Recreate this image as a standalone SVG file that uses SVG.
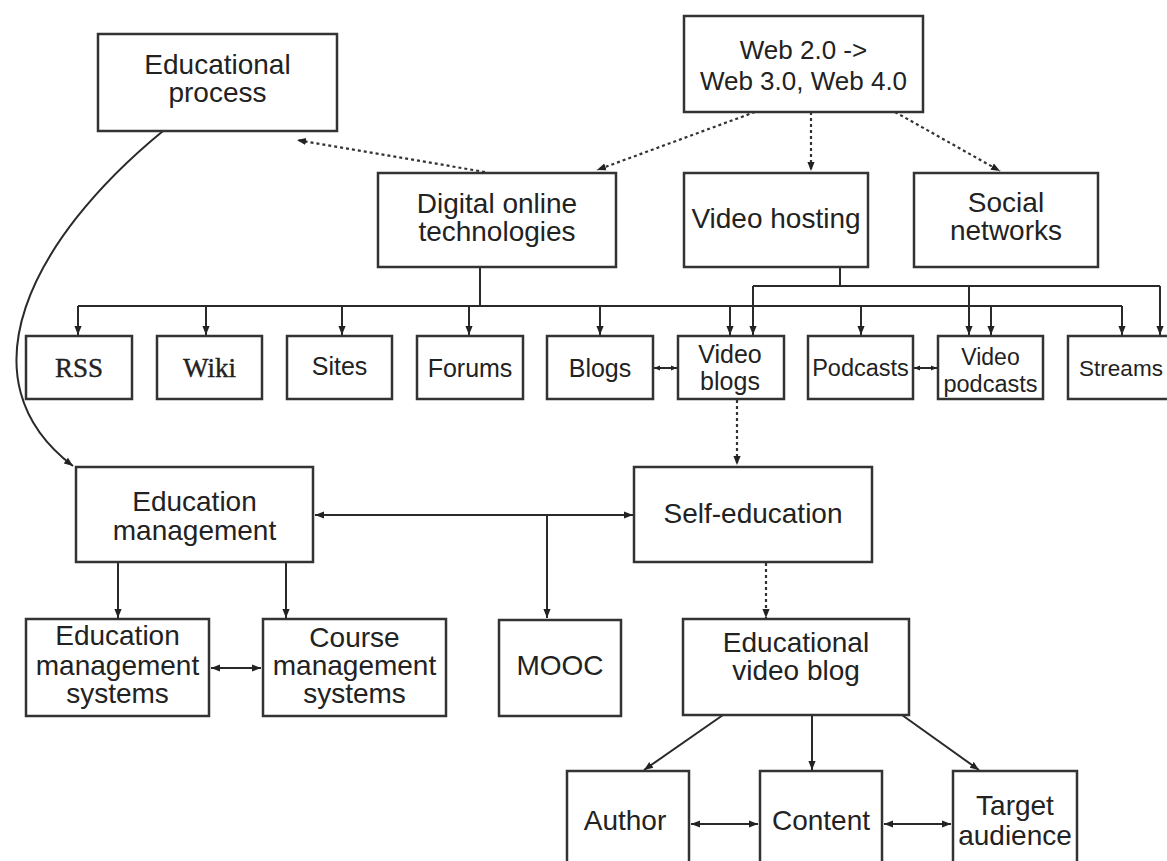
<svg xmlns="http://www.w3.org/2000/svg" width="1167" height="861" viewBox="0 0 1167 861">
<style>
.box{fill:#fff;stroke:#333;stroke-width:2.5}
.t{font-family:"Liberation Sans",Arial,sans-serif;font-size:28px;fill:#222;text-anchor:middle}
.s{font-family:"Liberation Sans",Arial,sans-serif;font-size:25px;fill:#222;text-anchor:middle}
.sf{font-family:"Liberation Serif","Times New Roman",serif;font-size:27px;fill:#222;text-anchor:middle;stroke:#222;stroke-width:0.4}
.ln{fill:none;stroke:#2a2a2a;stroke-width:2}
.dt{fill:none;stroke:#333;stroke-width:2.2;stroke-dasharray:3 3}
</style>
<defs>
<marker id="ah" viewBox="0 0 10 10" refX="10" refY="5" markerWidth="9" markerHeight="9" markerUnits="userSpaceOnUse" orient="auto-start-reverse"><path d="M0,1 L10,5 L0,9 z" fill="#222"/></marker>
<marker id="as" viewBox="0 0 10 10" refX="10" refY="5" markerWidth="6" markerHeight="6" markerUnits="userSpaceOnUse" orient="auto-start-reverse"><path d="M0,1 L10,5 L0,9 z" fill="#222"/></marker>
</defs>
<rect width="1167" height="861" fill="#fff"/>
<g id="connectors">
<path class="dt" d="M485,172 L297,140" marker-end="url(#ah)"/>
<path class="dt" d="M755,112 L597,170" marker-end="url(#ah)"/>
<path class="dt" d="M811,112 L811,171" marker-end="url(#ah)"/>
<path class="dt" d="M895,112 L1000,171" marker-end="url(#ah)"/>
<path class="ln" d="M480,267 V306 M78,306 H1122 M840,267 V286 M753,286 H1160"/>
<path class="ln" d="M78,306 V335" marker-end="url(#ah)"/>
<path class="ln" d="M206,306 V335" marker-end="url(#ah)"/>
<path class="ln" d="M342,306 V335" marker-end="url(#ah)"/>
<path class="ln" d="M469,306 V335" marker-end="url(#ah)"/>
<path class="ln" d="M600,306 V335" marker-end="url(#ah)"/>
<path class="ln" d="M730,306 V335" marker-end="url(#ah)"/>
<path class="ln" d="M861,306 V335" marker-end="url(#ah)"/>
<path class="ln" d="M991,306 V335" marker-end="url(#ah)"/>
<path class="ln" d="M1122,306 V335" marker-end="url(#ah)"/>
<path class="ln" d="M753,286 V335" marker-end="url(#ah)"/>
<path class="ln" d="M969,286 V335" marker-end="url(#ah)"/>
<path class="ln" d="M1160,286 V335" marker-end="url(#ah)"/>
<path class="ln" d="M654,368 H677" marker-start="url(#as)" marker-end="url(#as)"/>
<path class="ln" d="M914,368 H937" marker-start="url(#as)" marker-end="url(#as)"/>
<path class="dt" d="M737,400 V465" marker-end="url(#ah)"/>
<path class="ln" d="M163,131 C30,240 -40,380 73,466" marker-end="url(#ah)"/>
<path class="ln" d="M315,515 H633" marker-start="url(#ah)" marker-end="url(#ah)"/>
<path class="ln" d="M547,515 V618" marker-end="url(#ah)"/>
<path class="ln" d="M118,563 V618" marker-end="url(#ah)"/>
<path class="ln" d="M286,563 V618" marker-end="url(#ah)"/>
<path class="ln" d="M211,668 H261" marker-start="url(#ah)" marker-end="url(#ah)"/>
<path class="dt" d="M766,563 V618" marker-end="url(#ah)"/>
<path class="ln" d="M723,715 L644,770" marker-end="url(#ah)"/>
<path class="ln" d="M812,715 V770" marker-end="url(#ah)"/>
<path class="ln" d="M902,715 L979,770" marker-end="url(#ah)"/>
<path class="ln" d="M691,824 H758" marker-start="url(#ah)" marker-end="url(#ah)"/>
<path class="ln" d="M884,824 H951" marker-start="url(#ah)" marker-end="url(#ah)"/>
</g>
<g id="educational-process"><rect class="box" x="98" y="34" width="239" height="97"/><text class="t" x="217.5" y="74">Educational</text><text class="t" x="217.5" y="102">process</text></g>
<g id="web"><rect class="box" x="684" y="16" width="239" height="96"/><text class="t" x="803.5" y="59" style="font-size:26px">Web 2.0 -&gt;</text><text class="t" x="803.5" y="90" style="font-size:26px">Web 3.0, Web 4.0</text></g>
<g id="digital-online"><rect class="box" x="378" y="173" width="238" height="94"/><text class="t" x="497" y="213">Digital online</text><text class="t" x="497" y="241">technologies</text></g>
<g id="video-hosting"><rect class="box" x="684" y="173" width="184" height="94"/><text class="t" x="776" y="228">Video hosting</text></g>
<g id="social-networks"><rect class="box" x="914" y="173" width="184" height="94"/><text class="t" x="1006" y="212">Social</text><text class="t" x="1006" y="240">networks</text></g>
<g id="rss"><rect class="box" x="26" y="336" width="106" height="63"/><text class="sf" x="79" y="377">RSS</text></g>
<g id="wiki"><rect class="box" x="157" y="336" width="105" height="63"/><text class="sf" x="209.5" y="377">Wiki</text></g>
<g id="sites"><rect class="box" x="287" y="336" width="105" height="63"/><text class="s" x="339.5" y="375">Sites</text></g>
<g id="forums"><rect class="box" x="417" y="336" width="106" height="63"/><text class="s" x="470" y="377">Forums</text></g>
<g id="blogs"><rect class="box" x="547" y="336" width="106" height="63"/><text class="s" x="600" y="377">Blogs</text></g>
<g id="video-blogs"><rect class="box" x="678" y="336" width="106" height="63"/><text class="s" x="730" y="363">Video</text><text class="s" x="730" y="390">blogs</text></g>
<g id="podcasts"><rect class="box" x="808" y="336" width="105" height="63"/><text class="s" x="860.5" y="376" style="font-size:23.5px">Podcasts</text></g>
<g id="video-podcasts"><rect class="box" x="938" y="336" width="105" height="63"/><text class="s" x="990.5" y="365" style="font-size:23px">Video</text><text class="s" x="990.5" y="392" style="font-size:23.5px">podcasts</text></g>
<g id="streams"><rect class="box" x="1068" y="336" width="110" height="63"/><text class="s" x="1121" y="376" style="font-size:22.5px">Streams</text></g>
<g id="education-management"><rect class="box" x="76" y="467" width="237" height="95"/><text class="t" x="194.5" y="511">Education</text><text class="t" x="194.5" y="540">management</text></g>
<g id="self-education"><rect class="box" x="634" y="467" width="238" height="95"/><text class="t" x="753" y="523">Self-education</text></g>
<g id="ems"><rect class="box" x="26" y="619" width="183" height="97"/><text class="t" x="117.5" y="645">Education</text><text class="t" x="117.5" y="675">management</text><text class="t" x="117.5" y="703">systems</text></g>
<g id="cms"><rect class="box" x="263" y="619" width="183" height="97"/><text class="t" x="354.5" y="647">Course</text><text class="t" x="354.5" y="675">management</text><text class="t" x="354.5" y="703">systems</text></g>
<g id="mooc"><rect class="box" x="499" y="620" width="122" height="96"/><text class="t" x="560" y="675">MOOC</text></g>
<g id="educational-video-blog"><rect class="box" x="683" y="619" width="226" height="96"/><text class="t" x="796" y="652">Educational</text><text class="t" x="796" y="680">video blog</text></g>
<g id="author"><rect class="box" x="567" y="771" width="122" height="110"/><text class="t" x="625" y="830">Author</text></g>
<g id="content"><rect class="box" x="760" y="771" width="122" height="110"/><text class="t" x="821" y="830">Content</text></g>
<g id="target-audience"><rect class="box" x="953" y="771" width="124" height="110"/><text class="t" x="1015" y="815">Target</text><text class="t" x="1015" y="845">audience</text></g>
</svg>
